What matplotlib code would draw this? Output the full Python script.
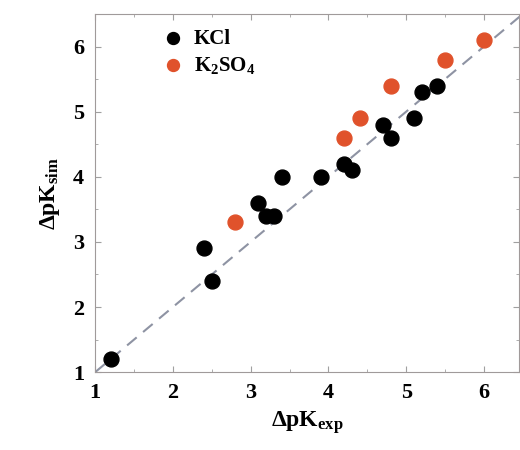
import numpy as np
import matplotlib
matplotlib.use("Agg")
import matplotlib.pyplot as plt
from matplotlib.ticker import MultipleLocator

# KCl
kcl_exp = [1.2, 2.4, 2.5, 3.1, 3.2, 3.3, 3.4, 3.9, 4.2, 4.3, 4.7, 4.8, 5.1, 5.2, 5.4]
kcl_sim = [1.2, 2.9, 2.4, 3.6, 3.4, 3.4, 4.0, 4.0, 4.2, 4.1, 4.8, 4.6, 4.9, 5.3, 5.4]

# K2SO4
k2so4_exp = [2.8, 4.2, 4.4, 4.8, 5.5, 6.0]
k2so4_sim = [3.3, 4.6, 4.9, 5.4, 5.8, 6.1]

ticks = [1, 2, 3, 4, 5, 6]

plt.rcParams["font.family"] = ["Liberation Serif", "DejaVu Serif"]
plt.rcParams["font.weight"] = "bold"
plt.rcParams["mathtext.fontset"] = "custom"
plt.rcParams["mathtext.rm"] = "Liberation Serif:bold"
plt.rcParams["mathtext.it"] = "Liberation Serif:bold"
plt.rcParams["mathtext.bf"] = "Liberation Serif:bold"

fig = plt.figure(figsize=(5.2, 4.5), dpi=100)
ax = fig.add_axes([0.183, 0.173, 0.815, 0.796])

diag = np.array([1, 6.5])
ax.plot(diag, diag, linestyle=(0, (6, 4)), color="#8e93a3", linewidth=1.5, zorder=1)

ax.scatter(kcl_exp, kcl_sim, s=115, color="black", label="KCl", zorder=3)
ax.scatter(k2so4_exp, k2so4_sim, s=115, color="#e0522b", label="K$_2$SO$_4$", zorder=3)

ax.set_xlim(1, 6.45)
ax.set_ylim(1, 6.5)
ax.set_xticks(ticks)
ax.set_yticks(ticks)
ax.xaxis.set_minor_locator(MultipleLocator(0.5))
ax.yaxis.set_minor_locator(MultipleLocator(0.5))
ax.tick_params(which="both", direction="in", top=True, right=True, color="#a0a0a0")
ax.tick_params(which="major", length=4, labelsize=16, pad=8)
ax.tick_params(which="minor", length=2)
for sp in ax.spines.values():
    sp.set_color("#a09a9a")

ax.set_xlabel("ΔpK$_{exp}$", fontsize=17, fontweight="bold")
ax.set_ylabel("ΔpK$_{sim}$", fontsize=17, fontweight="bold", labelpad=8)

ax.legend(loc="upper left", bbox_to_anchor=(0.1, 1.0), frameon=False,
          handletextpad=0.0, borderaxespad=0.3, labelspacing=0.3,
          markerscale=0.8, prop={"size": 15, "weight": "bold"})

fig.savefig("out.png", dpi=100)
